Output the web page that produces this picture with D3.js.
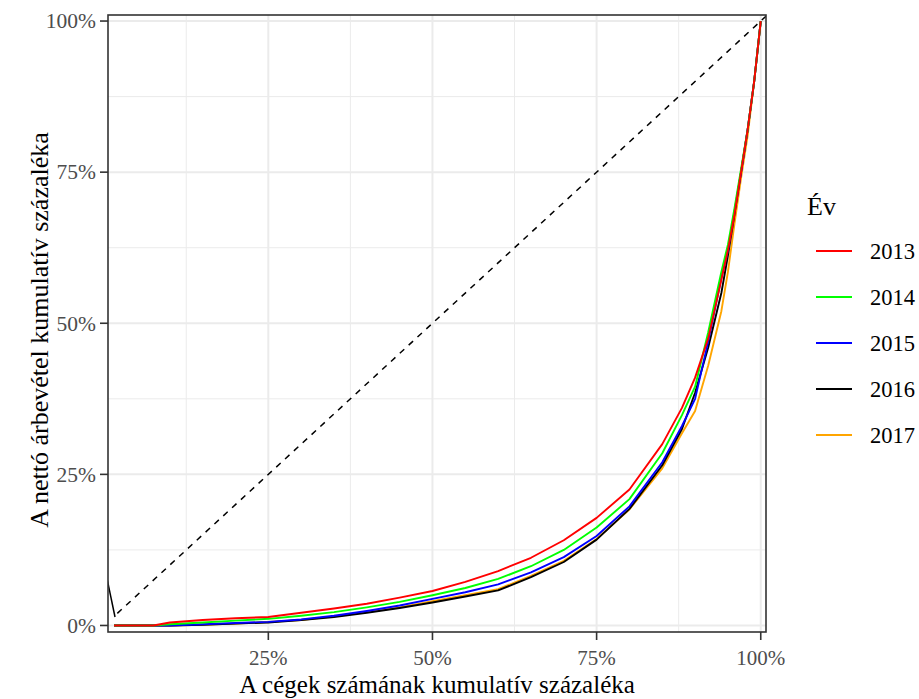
<!DOCTYPE html>
<html>
<head>
<meta charset="utf-8">
<script src="https://cdn.jsdelivr.net/npm/d3@7"></script>
<style>
  body { margin: 0; background: #fff; }
  text { font-family: "Liberation Serif", "Times New Roman", serif; }
</style>
</head>
<body>
<svg id="chart" width="919" height="699"></svg>
<script>
// Lorenz curves of net revenue, 2013-2017

const years = ['2013', '2014', '2015', '2016', '2017'];
const colors = ['#FF0000', '#00FF00', '#0000FF', '#000000', '#FFA500'];

// cumulative share of firms
const xs = [0.015, 0.05, 0.075, 0.1, 0.15, 0.2, 0.25, 0.3, 0.35, 0.4, 0.45, 0.5, 0.55, 0.6, 0.65,
            0.7, 0.75, 0.8, 0.85, 0.88, 0.9, 0.92, 0.94, 0.95, 0.96, 0.97, 0.98, 0.99, 1.0];

// cumulative share of net revenue, per year
const y2013 = [0, 0, 0, 0.005, 0.009, 0.012, 0.014, 0.021, 0.028, 0.036, 0.046, 0.057, 0.072, 0.090, 0.112,
               0.141, 0.178, 0.225, 0.3, 0.36, 0.41, 0.475, 0.572, 0.621, 0.68, 0.75, 0.82, 0.9, 1.0];
const y2014 = [0, 0, 0, 0.002, 0.005, 0.008, 0.011, 0.016, 0.022, 0.030, 0.039, 0.050, 0.062, 0.077, 0.098,
               0.125, 0.162, 0.209, 0.285, 0.348, 0.395, 0.485, 0.585, 0.63, 0.69, 0.755, 0.82, 0.9, 1.0];
const y2015 = [0, 0, 0, 0, 0.002, 0.004, 0.006, 0.010, 0.016, 0.024, 0.033, 0.044, 0.055, 0.068, 0.088,
               0.113, 0.148, 0.197, 0.27, 0.33, 0.375, 0.47, 0.575, 0.62, 0.685, 0.75, 0.82, 0.9, 1.0];
const y2016 = [0, 0, 0, 0, 0.001, 0.003, 0.005, 0.009, 0.014, 0.021, 0.029, 0.038, 0.048, 0.058, 0.080,
               0.105, 0.142, 0.193, 0.265, 0.325, 0.385, 0.46, 0.55, 0.612, 0.68, 0.75, 0.82, 0.9, 1.0];
const y2017 = [0, 0, 0, 0, 0.001, 0.003, 0.006, 0.009, 0.015, 0.022, 0.030, 0.040, 0.050, 0.060, 0.082,
               0.107, 0.143, 0.192, 0.26, 0.318, 0.355, 0.43, 0.52, 0.585, 0.665, 0.74, 0.81, 0.9, 1.0];
const series = [y2013, y2014, y2015, y2016, y2017];

// equality line and the short solid stub at the left edge
const equality = [[0.02, 0.02], [1.01, 1.01]];
const stub = [[0, 0.10], [0.0165, 0.014]];

const ticks = [0.25, 0.5, 0.75, 1.0];
const yTicks = [0, 0.25, 0.5, 0.75, 1.0];
const minorTicks = [0.125, 0.375, 0.625, 0.875];

const xTitle = 'A cégek számának kumulatív százaléka';
const yTitle = 'A nettó árbevétel kumulatív százaléka';
const legendTitle = 'Év';

let panel = {left: 108, right: 766, top: 15, bottom: 632};

let svg = d3.select('#chart');

let x = d3.scaleLinear().domain([0.0058, 1.008]).range([panel.left, panel.right]);
let y = d3.scaleLinear().domain([-0.0108, 1.01]).range([panel.bottom, panel.top]);
let pct = d => Math.round(d * 100) + '%';

svg.append('defs').append('clipPath').attr('id', 'clip')
    .append('rect')
    .attr('x', panel.left).attr('y', panel.top)
    .attr('width', panel.right - panel.left).attr('height', panel.bottom - panel.top);

let grid = svg.append('g').attr('clip-path', 'url(#clip)');
// minor grid
grid.selectAll('.vminor').data(minorTicks).enter().append('line')
    .attr('x1', d => x(d)).attr('x2', d => x(d))
    .attr('y1', panel.top).attr('y2', panel.bottom)
    .attr('stroke', '#EBEBEB').attr('stroke-width', 1);
grid.selectAll('.hminor').data(minorTicks).enter().append('line')
    .attr('y1', d => y(d)).attr('y2', d => y(d))
    .attr('x1', panel.left).attr('x2', panel.right)
    .attr('stroke', '#EBEBEB').attr('stroke-width', 1);
// major grid
grid.selectAll('.vmajor').data(ticks).enter().append('line')
    .attr('x1', d => x(d)).attr('x2', d => x(d))
    .attr('y1', panel.top).attr('y2', panel.bottom)
    .attr('stroke', '#EBEBEB').attr('stroke-width', 2);
grid.selectAll('.hmajor').data(yTicks).enter().append('line')
    .attr('y1', d => y(d)).attr('y2', d => y(d))
    .attr('x1', panel.left).attr('x2', panel.right)
    .attr('stroke', '#EBEBEB').attr('stroke-width', 2);

let plot = svg.append('g').attr('clip-path', 'url(#clip)');
let line = d3.line().x(d => x(d[0])).y(d => y(d[1]));

plot.append('path').datum(stub)
    .attr('d', line).attr('fill', 'none')
    .attr('stroke', '#000').attr('stroke-width', 1.5);
plot.append('path').datum(equality)
    .attr('d', line).attr('fill', 'none')
    .attr('stroke', '#000').attr('stroke-width', 1.5)
    .attr('stroke-dasharray', '6,6');

// later years underneath, 2013 on top
for (let i = years.length - 1; i >= 0; i--) {
    plot.append('path')
        .datum(xs.map((v, j) => [v, series[i][j]]))
        .attr('d', line).attr('fill', 'none')
        .attr('stroke', colors[i]).attr('stroke-width', 1.9)
        .attr('stroke-linejoin', 'round');
}

// panel border
svg.append('rect')
    .attr('x', panel.left).attr('y', panel.top)
    .attr('width', panel.right - panel.left).attr('height', panel.bottom - panel.top)
    .attr('fill', 'none').attr('stroke', '#333333').attr('stroke-width', 1.6);

// y axis
let yAxis = svg.append('g');
yAxis.selectAll('line').data(yTicks).enter().append('line')
    .attr('x1', panel.left - 8).attr('x2', panel.left)
    .attr('y1', d => y(d)).attr('y2', d => y(d))
    .attr('stroke', '#333333').attr('stroke-width', 1.6);
yAxis.selectAll('text').data(yTicks).enter().append('text')
    .attr('x', panel.left - 12).attr('y', d => y(d))
    .attr('dy', '0.34em').attr('text-anchor', 'end')
    .attr('font-size', 21.5).attr('fill', '#4D4D4D')
    .text(pct);

// x axis, drawn just below the panel
let xAxis = svg.append('g');
xAxis.selectAll('line').data(ticks).enter().append('line')
    .attr('x1', d => x(d)).attr('x2', d => x(d))
    .attr('y1', panel.bottom).attr('y2', panel.bottom + 8)
    .attr('stroke', '#333333').attr('stroke-width', 1.6);
xAxis.selectAll('text').data(ticks).enter().append('text')
    .attr('x', d => x(d)).attr('y', 665)
    .attr('text-anchor', 'middle')
    .attr('font-size', 21).attr('fill', '#4D4D4D')
    .text(pct);

svg.append('text')
    .attr('x', 437).attr('y', 693)
    .attr('text-anchor', 'middle').attr('font-size', 25)
    .text(xTitle);
svg.append('text')
    .attr('transform', 'translate(48,330) rotate(-90)')
    .attr('text-anchor', 'middle').attr('font-size', 26)
    .text(yTitle);

// legend
let legend = svg.append('g');
legend.append('text').attr('x', 807).attr('y', 215)
    .attr('font-size', 26).text(legendTitle);
let items = legend.selectAll('.item').data(years).enter().append('g')
    .attr('transform', (d, i) => 'translate(0,' + (251 + i * 46) + ')');
items.append('line')
    .attr('x1', 816).attr('x2', 852).attr('y1', 0).attr('y2', 0)
    .attr('stroke', (d, i) => colors[i]).attr('stroke-width', 2.2);
items.append('text')
    .attr('x', 870).attr('y', 0).attr('dy', '0.34em')
    .attr('font-size', 22.5).text(d => d);
</script>
</body>
</html>
